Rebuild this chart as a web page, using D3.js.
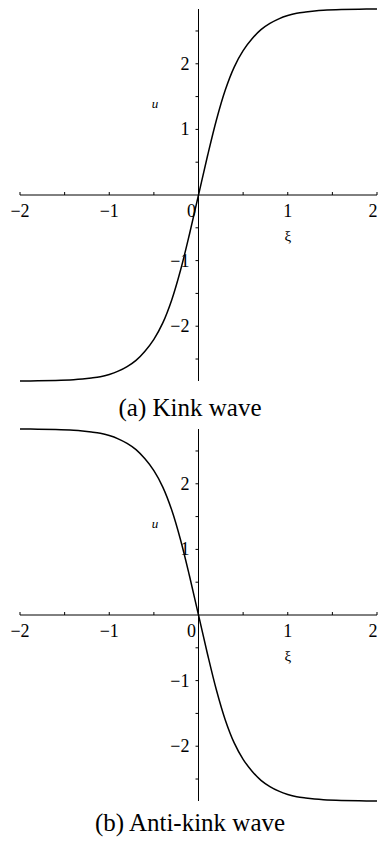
<!DOCTYPE html>
<html>
<head>
<meta charset="utf-8">
<script src="https://cdn.jsdelivr.net/npm/d3@7"></script>
<style>
  html, body { margin: 0; padding: 0; background: #fff; }
  svg { display: block; }
</style>
</head>
<body>
<svg id="chart" width="380" height="850"></svg>
<script>
// Travelling-wave profiles u(ξ)
const xi = [-2.0, -1.8, -1.6, -1.4, -1.3, -1.2, -1.1, -1.0, -0.9, -0.8, -0.7, -0.6, -0.5, -0.4, -0.3, -0.2, -0.1, 0,
            0.1, 0.2, 0.3, 0.4, 0.5, 0.6, 0.7, 0.8, 0.9, 1.0, 1.1, 1.2, 1.3, 1.4, 1.6, 1.8, 2.0];
const kinkU = [-2.835, -2.832, -2.826, -2.815, -2.805, -2.79, -2.77, -2.735, -2.685, -2.615, -2.52, -2.38, -2.20, -1.95, -1.60, -1.14, -0.59, 0,
               0.59, 1.14, 1.60, 1.95, 2.20, 2.38, 2.52, 2.615, 2.685, 2.735, 2.77, 2.79, 2.805, 2.815, 2.826, 2.832, 2.835];
const antiKinkU = [2.835, 2.832, 2.826, 2.815, 2.805, 2.79, 2.77, 2.735, 2.685, 2.615, 2.52, 2.38, 2.20, 1.95, 1.60, 1.14, 0.59, 0,
                   -0.59, -1.14, -1.60, -1.95, -2.20, -2.38, -2.52, -2.615, -2.685, -2.735, -2.77, -2.79, -2.805, -2.815, -2.826, -2.832, -2.835];

const xMajor = [-2, -1, 0, 1, 2];
const xMinor = [-1.5, -0.5, 0.5, 1.5];
const yMajor = [-2, -1, 1, 2];
const yMinor = [-2.5, -1.5, -0.5, 0.5, 1.5, 2.5];
const captions = ["(a) Kink wave", "(b) Anti-kink wave"];
const panels = [kinkU, antiKinkU];

const SERIF = "'Liberation Serif', 'Times New Roman', 'DejaVu Serif', serif";
const svg = d3.select("#chart");
const uMax = d3.max(kinkU);

const x = d3.scaleLinear().domain([-2, 2]).range([20, 377]);
const y = d3.scaleLinear().domain([-uMax, uMax]).range([381, 9]);
const fmt = v => (v < 0 ? "\u2212" + Math.abs(v) : String(v));

panels.forEach((uVals, i) => {
  const g = svg.append("g").attr("transform", `translate(0,${i * 420})`)
    .style("font-family", SERIF);
  const x0 = x(0), y0 = y(0);

  // axes through the origin
  g.append("line").attr("x1", x(-2)).attr("x2", x(2)).attr("y1", y0).attr("y2", y0)
    .attr("stroke", "#000").attr("stroke-width", 1);
  g.append("line").attr("x1", x0).attr("x2", x0).attr("y1", y(uMax)).attr("y2", y(-uMax))
    .attr("stroke", "#000").attr("stroke-width", 1);

  // x ticks (drawn upward from the axis)
  g.selectAll(".xt").data(xMajor.concat(xMinor)).join("line")
    .attr("x1", d => x(d)).attr("x2", d => x(d)).attr("y1", y0).attr("y2", y0 - 3)
    .attr("stroke", "#000").attr("stroke-width", 1);
  // y ticks (drawn to the left of the axis)
  g.selectAll(".yt").data(yMajor.concat(yMinor)).join("line")
    .attr("x1", x0 - 3).attr("x2", x0).attr("y1", d => y(d)).attr("y2", d => y(d))
    .attr("stroke", "#000").attr("stroke-width", 1);

  // x tick labels; the origin label sits left of the vertical axis and the
  // last label is kept inside the frame
  g.selectAll(".xl").data(xMajor).join("text")
    .attr("x", d => d === 0 ? x(d) - 7 : Math.min(x(d), 373))
    .attr("y", y0 + 22)
    .attr("text-anchor", "middle")
    .attr("font-size", 18)
    .text(fmt);
  // y tick labels
  g.selectAll(".yl").data(yMajor).join("text")
    .attr("x", x0 - 9)
    .attr("y", d => y(d) + 6)
    .attr("text-anchor", "end")
    .attr("font-size", 18)
    .text(fmt);

  // axis titles
  g.append("text").attr("x", 155).attr("y", 108).attr("text-anchor", "middle")
    .attr("font-size", 13).attr("font-style", "italic").text("u");
  g.append("text").attr("x", x(1)).attr("y", 241).attr("text-anchor", "middle")
    .attr("font-size", 15).text("\u03be");

  // profile curve
  const line = d3.line().x(d => x(d[0])).y(d => y(d[1])).curve(d3.curveCatmullRom.alpha(0.5));
  g.append("path").datum(xi.map((v, k) => [v, uVals[k]]))
    .attr("d", line).attr("fill", "none").attr("stroke", "#000").attr("stroke-width", 1.5);

  // caption
  g.append("text").attr("x", 190).attr("y", 416 - i * 5).attr("text-anchor", "middle")
    .attr("font-size", 25).text(captions[i]);
});
</script>
</body>
</html>
